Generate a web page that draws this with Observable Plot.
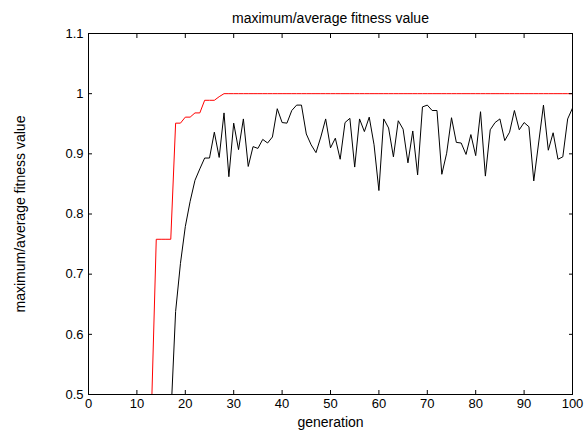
<!DOCTYPE html>
<html>
<head>
<meta charset="utf-8">
<script src="https://cdn.jsdelivr.net/npm/d3@7"></script>
<script src="https://cdn.jsdelivr.net/npm/@observablehq/plot@0.6"></script>
<style>
  html, body { margin: 0; padding: 0; background: #fff; }
</style>
</head>
<body>
<div id="chart"></div>
<script>
const titleText = "maximum/average fitness value";
const xLabel = "generation";
const yLabel = "maximum/average fitness value";

const xTicks = [0, 10, 20, 30, 40, 50, 60, 70, 80, 90, 100];
const yTicks = [0.5, 0.6, 0.7, 0.8, 0.9, 1.0, 1.1];
const yTickLabels = ["0.5", "0.6", "0.7", "0.8", "0.9", "1", "1.1"];

// maximum fitness, generations 13..100
const maxStart = 13;
const maxFitness = [
  0.47, 0.758, 0.758, 0.758, 0.758, 0.951, 0.951, 0.961, 0.961, 0.968,
  0.968, 0.989, 0.989, 0.989, 0.995, 1, 1, 1, 1, 1,
  1, 1, 1, 1, 1, 1, 1, 1, 1, 1,
  1, 1, 1, 1, 1, 1, 1, 1, 1, 1,
  1, 1, 1, 1, 1, 1, 1, 1, 1, 1,
  1, 1, 1, 1, 1, 1, 1, 1, 1, 1,
  1, 1, 1, 1, 1, 1, 1, 1, 1, 1,
  1, 1, 1, 1, 1, 1, 1, 1, 1, 1,
  1, 1, 1, 1, 1, 1, 1, 1
];

// average fitness, generations 17..100
const avgStart = 17;
const avgFitness = [
  0.46, 0.638, 0.718, 0.779, 0.821, 0.856, 0.875, 0.893, 0.893, 0.936,
  0.894, 0.968, 0.862, 0.951, 0.907, 0.958, 0.879, 0.912, 0.909, 0.924,
  0.918, 0.928, 0.975, 0.952, 0.951, 0.972, 0.981, 0.981, 0.933, 0.915,
  0.902, 0.928, 0.958, 0.910, 0.926, 0.891, 0.952, 0.959, 0.878, 0.958,
  0.937, 0.961, 0.915, 0.839, 0.958, 0.943, 0.895, 0.955, 0.941, 0.885,
  0.938, 0.865, 0.978, 0.981, 0.972, 0.972, 0.866, 0.901, 0.960, 0.919,
  0.918, 0.899, 0.932, 0.897, 0.970, 0.863, 0.940, 0.952, 0.958, 0.922,
  0.936, 0.972, 0.940, 0.952, 0.945, 0.855, 0.918, 0.981, 0.906, 0.935,
  0.891, 0.895, 0.958, 0.976
];

const maxData = maxFitness.map((v, i) => ({gen: maxStart + i, value: v}));
const avgData = avgFitness.map((v, i) => ({gen: avgStart + i, value: v}));
const yFmt = d => yTickLabels[yTicks.findIndex(t => Math.abs(t - d) < 1e-9)];

const chart = Plot.plot({
  width: 588,
  height: 432,
  marginLeft: 88,
  marginRight: 16,
  marginTop: 33,
  marginBottom: 38,
  style: {fontFamily: "'Liberation Sans', Arial, sans-serif", fontSize: "13px", background: "#fff", color: "#000"},
  x: {domain: [0, 100], label: null},
  y: {domain: [0.5, 1.1], label: null},
  marks: [
    Plot.line(maxData, {x: "gen", y: "value", stroke: "#ff0000", strokeWidth: 1, clip: true}),
    Plot.line(avgData, {x: "gen", y: "value", stroke: "#000", strokeWidth: 1, clip: true}),
    Plot.frame({stroke: "#000", strokeWidth: 1}),
    Plot.axisX(xTicks, {anchor: "bottom", tickSize: -4, tickPadding: 8, fontSize: 13, label: null}),
    Plot.axisX(xTicks, {anchor: "top", tickSize: -4, tickFormat: () => "", label: null}),
    Plot.axisY(yTicks, {anchor: "left", tickSize: -4, tickPadding: 9, tickFormat: yFmt, fontSize: 13, label: null}),
    Plot.axisY(yTicks, {anchor: "right", tickSize: -4, tickFormat: () => "", label: null}),
    Plot.text([titleText], {frameAnchor: "top", dy: -15, lineAnchor: "middle", textAnchor: "middle", fontSize: 14, text: d => d}),
    Plot.text([xLabel], {frameAnchor: "bottom", dy: 28, lineAnchor: "middle", textAnchor: "middle", fontSize: 14, text: d => d}),
    Plot.text([yLabel], {frameAnchor: "left", dx: -68, rotate: -90, lineAnchor: "middle", textAnchor: "middle", fontSize: 14, text: d => d})
  ]
});
document.getElementById("chart").appendChild(chart);
</script>
</body>
</html>
